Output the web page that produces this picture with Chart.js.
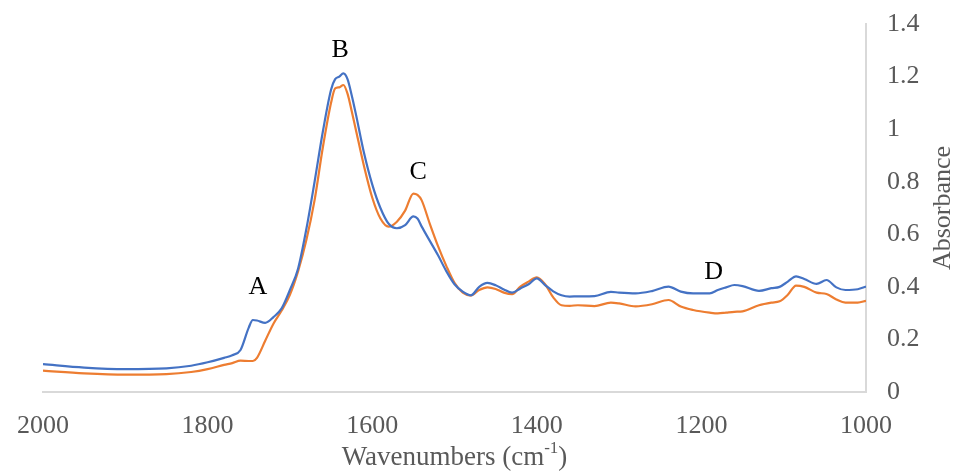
<!DOCTYPE html>
<html>
<head>
<meta charset="utf-8">
<script src="https://cdn.jsdelivr.net/npm/chart.js@4.4.0/dist/chart.umd.min.js"></script>
<style>
  html, body { margin: 0; padding: 0; background: #fff; }
  #wrap { width: 962px; height: 475px; }
</style>
</head>
<body>
<div id="wrap"><canvas id="spectra"></canvas></div>
<script>
// wavenumbers (cm-1)
const wavenumbers = [2000, 1950, 1900, 1850, 1820, 1800, 1780, 1770, 1760, 1750, 1745, 1740, 1730, 1720, 1710,
  1700, 1690, 1680, 1670, 1660, 1650, 1645, 1640, 1635, 1630, 1625, 1620, 1610, 1600, 1590,
  1580, 1570, 1560, 1550, 1545, 1540, 1530, 1520, 1510, 1500, 1490, 1480, 1470, 1460, 1450,
  1440, 1430, 1420, 1410, 1400, 1390, 1380, 1370, 1360, 1350, 1330, 1310, 1300, 1280, 1260,
  1240, 1225, 1210, 1190, 1180, 1170, 1160, 1150, 1130, 1115, 1105, 1095, 1085, 1075, 1060,
  1048, 1036, 1025, 1010, 1000];

const blueSeries = [0.106, 0.093, 0.087, 0.090, 0.100, 0.113, 0.130, 0.140, 0.160, 0.245, 0.274, 0.272, 0.263, 0.285, 0.318,
  0.388, 0.47, 0.62, 0.80, 0.99, 1.15, 1.19, 1.20, 1.212, 1.19, 1.13, 1.06, 0.91, 0.79, 0.70,
  0.640, 0.623, 0.635, 0.668, 0.660, 0.630, 0.575, 0.52, 0.46, 0.41, 0.382, 0.368, 0.400, 0.415, 0.406,
  0.390, 0.378, 0.394, 0.410, 0.432, 0.407, 0.383, 0.368, 0.363, 0.364, 0.365, 0.381, 0.378, 0.375, 0.384,
  0.401, 0.382, 0.375, 0.375, 0.388, 0.398, 0.407, 0.403, 0.385, 0.395, 0.400, 0.420, 0.440, 0.430, 0.411,
  0.426, 0.398, 0.388, 0.391, 0.401];

const orangeSeries = [0.081, 0.071, 0.066, 0.068, 0.076, 0.087, 0.103, 0.110, 0.119, 0.118, 0.118, 0.130, 0.195, 0.26, 0.31,
  0.37, 0.46, 0.578, 0.73, 0.93, 1.10, 1.155, 1.159, 1.168, 1.135, 1.07, 1.00, 0.86, 0.74, 0.66,
  0.629, 0.648, 0.69, 0.755, 0.750, 0.730, 0.640, 0.555, 0.480, 0.415, 0.378, 0.367, 0.388, 0.398, 0.392,
  0.378, 0.372, 0.401, 0.420, 0.436, 0.410, 0.360, 0.330, 0.328, 0.330, 0.327, 0.340, 0.337, 0.326, 0.334,
  0.350, 0.325, 0.312, 0.302, 0.299, 0.302, 0.305, 0.307, 0.330, 0.340, 0.345, 0.370, 0.405, 0.400, 0.378,
  0.373, 0.352, 0.340, 0.340, 0.347];

const xTicks = [2000, 1800, 1600, 1400, 1200, 1000];
const xTickLabels = ['2000', '1800', '1600', '1400', '1200', '1000'];
const yTicks = [0, 0.2, 0.4, 0.6, 0.8, 1, 1.2, 1.4];
const yTickLabels = ['0', '0.2', '0.4', '0.6', '0.8', '1', '1.2', '1.4'];

// peak letters and where they sit (data units)
const peakLabels = ['A', 'B', 'C', 'D'];
const peakWavenumbers = [1739, 1639, 1544, 1185];
const peakHeights = [0.40, 1.30, 0.837, 0.456];

const serif = '"Liberation Serif", "Times New Roman", serif';
const grey = '#595959';

const textPlugin = {
    id: 'textPlugin',
    afterDraw(chart) {
        const { ctx, chartArea, scales } = chart;
        ctx.save();
        ctx.textAlign = 'center';
        ctx.textBaseline = 'middle';

        // peak letters
        ctx.font = '26px ' + serif;
        ctx.fillStyle = '#000';
        peakLabels.forEach((t, i) => {
            ctx.fillText(t, scales.x.getPixelForValue(peakWavenumbers[i]), scales.y.getPixelForValue(peakHeights[i]));
        });

        // y title, reads bottom to top
        ctx.fillStyle = grey;
        ctx.save();
        ctx.translate(chartArea.right + 77, (chartArea.top + chartArea.bottom) / 2);
        ctx.rotate(-Math.PI / 2);
        ctx.fillText('Absorbance', 0, 0);
        ctx.restore();

        // x title with superscript
        const main = 'Wavenumbers (cm';
        const sup = '-1';
        const end = ')';
        ctx.font = '27px ' + serif;
        const w1 = ctx.measureText(main).width;
        const w3 = ctx.measureText(end).width;
        ctx.font = '17px ' + serif;
        const w2 = ctx.measureText(sup).width;
        let x0 = (chartArea.left + chartArea.right) / 2 - (w1 + w2 + w3) / 2;
        const yb = chartArea.bottom + 66;
        ctx.textAlign = 'left';
        ctx.font = '27px ' + serif;
        ctx.fillText(main, x0, yb);
        ctx.font = '17px ' + serif;
        ctx.fillText(sup, x0 + w1, yb - 9);
        ctx.font = '27px ' + serif;
        ctx.fillText(end, x0 + w1 + w2, yb);
        ctx.restore();
    }
};

const line = (values, color) => ({
    data: wavenumbers.map((w, i) => ({ x: w, y: values[i] })),
    borderColor: color,
    borderWidth: 2.2,
    pointRadius: 0,
    fill: false,
    cubicInterpolationMode: 'monotone'
});

new Chart(document.getElementById('spectra'), {
    type: 'line',
    data: {
        datasets: [line(blueSeries, '#4472C4'), line(orangeSeries, '#ED7D31')]
    },
    options: {
        responsive: true,
        maintainAspectRatio: false,
        animation: false,
        layout: { padding: { left: 43, top: 24, right: 0, bottom: 0 } },
        plugins: { legend: { display: false }, tooltip: { enabled: false } },
        scales: {
            x: {
                type: 'linear',
                reverse: true,
                min: 1000,
                max: 2000,
                afterBuildTicks: s => { s.ticks = xTicks.map(v => ({ value: v })); },
                afterFit: s => { s.height = 83; s.paddingLeft = 0; s.paddingRight = 0; },
                grid: { display: false, drawTicks: false },
                border: { display: true, color: '#d9d9d9', width: 2 },
                ticks: {
                    font: { family: serif, size: 26 },
                    color: grey,
                    padding: 19,
                    maxRotation: 0,
                    callback: (v, i) => xTickLabels[i]
                }
            },
            y: {
                position: 'right',
                min: 0,
                max: 1.4,
                afterBuildTicks: s => { s.ticks = yTicks.map(v => ({ value: v })); },
                afterFit: s => { s.width = 96; s.paddingTop = 0; s.paddingBottom = 0; },
                grid: { display: false, drawTicks: false },
                border: { display: true, color: '#d9d9d9', width: 2 },
                ticks: {
                    font: { family: serif, size: 26 },
                    color: grey,
                    padding: 21,
                    callback: (v, i) => yTickLabels[i]
                }
            }
        }
    },
    plugins: [textPlugin]
});
</script>
</body>
</html>
